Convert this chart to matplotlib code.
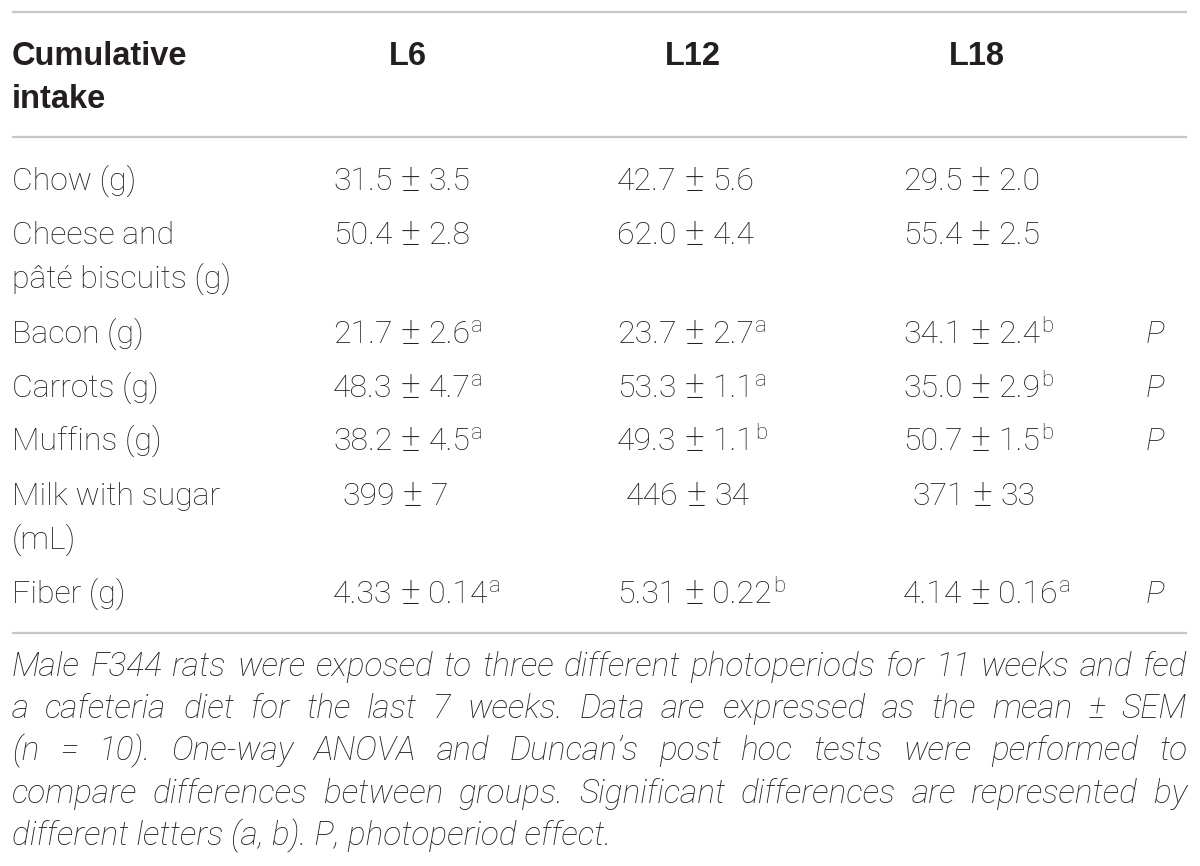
import matplotlib
matplotlib.use("Agg")
import matplotlib.pyplot as plt

# table content
row_labels = ["Chow (g)", "Cheese and\npâté biscuits (g)", "Bacon (g)", "Carrots (g)",
              "Muffins (g)", "Milk with sugar\n(mL)", "Fiber (g)"]
groups = ["L6", "L12", "L18"]

mean_L6 = ["31.5", "50.4", "21.7", "48.3", "38.2", "399", "4.33"]
sem_L6 = ["3.5", "2.8", "2.6", "4.7", "4.5", "7", "0.14"]
sup_L6 = ["", "", "a", "a", "a", "", "a"]

mean_L12 = ["42.7", "62.0", "23.7", "53.3", "49.3", "446", "5.31"]
sem_L12 = ["5.6", "4.4", "2.7", "1.1", "1.1", "34", "0.22"]
sup_L12 = ["", "", "a", "a", "b", "", "b"]

mean_L18 = ["29.5", "55.4", "34.1", "35.0", "50.7", "371", "4.14"]
sem_L18 = ["2.0", "2.5", "2.4", "2.9", "1.5", "33", "0.16"]
sup_L18 = ["", "", "b", "b", "b", "", "a"]

effect = ["", "", "P", "P", "P", "", "P"]

caption = [
    "Male F344 rats were exposed to three different photoperiods for 11 weeks and fed",
    "a cafeteria diet for the last 7 weeks. Data are expressed as the mean \u00b1 SEM",
    "(n = 10). One-way ANOVA and Duncan\u2019s post hoc tests were performed to",
    "compare differences between groups. Significant differences are represented by",
    "different letters (a, b). P, photoperiod effect.",
]

TXT = "#231f20"
RULE = "#c6c6c6"
BODY = dict(family="Roboto", weight="light", size=23, color=TXT)
HEAD = dict(family="Liberation Sans", weight="bold", size=23.5, color=TXT)
CAP = dict(family="Roboto", weight="light", style="italic", size=24, color=TXT)

fig = plt.figure(figsize=(12, 8.66), dpi=100)
ax = fig.add_axes([0, 0, 1, 1])
ax.set_xlim(0, 1200)
ax.set_ylim(866, 0)
ax.axis("off")
renderer = fig.canvas.get_renderer()


def width_of(t):
    return t.get_window_extent(renderer).width


# rules
for y in (12, 137, 633):
    ax.plot([12, 1187], [y, y], color=RULE, lw=1.6, solid_capstyle="butt")

# header
ax.text(12, 65, "Cumulative", ha="left", va="baseline", **HEAD)
ax.text(12, 108, "intake", ha="left", va="baseline", **HEAD)
for x, g in zip([408, 693, 977], groups):
    ax.text(x, 65, g, ha="center", va="baseline", **HEAD)

# body
row_y = [190, 244, 343, 397, 450, 505, 603]
line_gap = 44
col_x = [333, 617, 903]
cols = [(mean_L6, sem_L6, sup_L6), (mean_L12, sem_L12, sup_L12), (mean_L18, sem_L18, sup_L18)]

for i, y in enumerate(row_y):
    for k, line in enumerate(row_labels[i].split("\n")):
        ax.text(12, y + k * line_gap, line, ha="left", va="baseline", **BODY)
    for x, (means, sems, sups) in zip(col_x, cols):
        x0 = x + (9 if len(means[i]) == 3 else 0)
        t = ax.text(x0, y, means[i], ha="left", va="baseline", **BODY)
        xp = x0 + width_of(t) + 8
        pm = ax.text(xp, y + 1, "\u00b1", ha="left", va="baseline",
                     family="Roboto", weight="light", size=27, color=TXT)
        xs = xp + width_of(pm) + 8
        s = ax.text(xs, y, sems[i], ha="left", va="baseline", **BODY)
        if sups[i]:
            ax.text(xs + width_of(s) + 1, y - 11, sups[i], ha="left", va="baseline",
                    family="Roboto", weight="light", size=16, color=TXT)
    if effect[i]:
        ax.text(1146, y, effect[i], ha="left", va="baseline",
                family="Roboto", weight="light", style="italic", size=23, color=TXT)

# caption, justified
cap_y = [676, 718, 760, 803, 845]
left, right = 12, 1187
for j, (line, y) in enumerate(zip(caption, cap_y)):
    words = line.split(" ")
    if j == len(caption) - 1:
        ax.text(left, y, line, ha="left", va="baseline", **CAP)
        continue
    texts = [ax.text(0, y, w, ha="left", va="baseline", **CAP) for w in words]
    widths = [width_of(t) for t in texts]
    gap = (right - left - sum(widths)) / (len(words) - 1)
    x = left
    for t, w in zip(texts, widths):
        t.set_x(x)
        x += w + gap

fig.savefig("out.png", dpi=100, facecolor="white")
